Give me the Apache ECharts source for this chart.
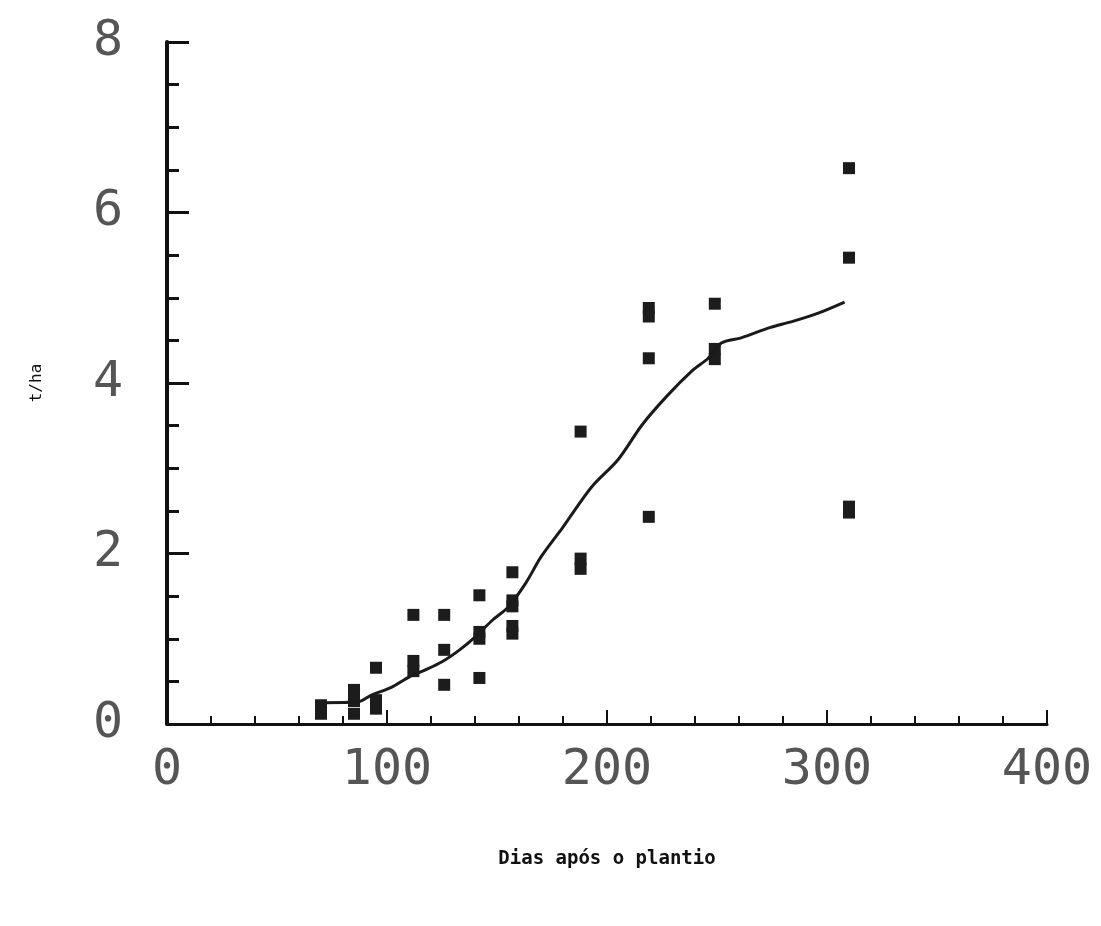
<!DOCTYPE html>
<html>
<head>
<meta charset="utf-8">
<script src="https://cdn.jsdelivr.net/npm/echarts@6/dist/echarts.min.js"></script>
<style>
  html, body { margin: 0; padding: 0; background: #fff; }
  #main { width: 1101px; height: 926px; }
</style>
</head>
<body>
<div id="main"></div>
<script>
// dias após o plantio (coletas) e produção observada, t/ha
var dias = [70, 70, 85, 85, 85, 95, 95, 95, 112, 112, 112, 126, 126, 126,
            142, 142, 142, 142, 157, 157, 157, 157, 157, 188, 188, 188,
            219, 219, 219, 219, 249, 249, 249, 310, 310, 310, 310];
var producao = [0.12, 0.22, 0.12, 0.27, 0.40, 0.18, 0.28, 0.66, 0.62, 0.74, 1.28, 0.46, 0.87, 1.28,
                0.54, 1.00, 1.08, 1.51, 1.06, 1.15, 1.38, 1.45, 1.78, 1.82, 1.94, 3.43,
                2.43, 4.29, 4.78, 4.88, 4.28, 4.40, 4.93, 2.48, 2.55, 5.47, 6.52];

// curva ajustada
var curvaX = [71, 87, 93, 102, 110, 117, 125, 133, 140, 148, 155, 163, 170,
              180, 193, 205, 216, 227, 239, 246, 252, 261, 274, 284, 296, 308];
var curvaY = [0.25, 0.26, 0.34, 0.43, 0.55, 0.63, 0.73, 0.87, 1.02, 1.22, 1.37, 1.65, 1.96,
              2.31, 2.78, 3.10, 3.51, 3.84, 4.15, 4.29, 4.47, 4.53, 4.65, 4.72, 4.82, 4.95];

var xTicks = [0, 100, 200, 300, 400];
var yTicks = [0, 2, 4, 6, 8];

var pontos = dias.map(function (d, i) { return [d, producao[i]]; });
var curva = curvaX.map(function (d, i) { return [d, curvaY[i]]; });

var tickFont = {
  color: '#555',
  fontFamily: 'DejaVu Sans Mono',
  fontWeight: 'lighter',
  fontSize: 50
};

var myChart = echarts.init(document.getElementById('main'));
var option = {
  backgroundColor: '#fff',
  animation: false,
  grid: { left: 167, right: 54, top: 42, bottom: 202 },
  xAxis: {
    type: 'value',
    min: xTicks[0],
    max: xTicks[xTicks.length - 1],
    interval: 100,
    name: 'Dias após o plantio',
    nameLocation: 'middle',
    nameGap: 126,
    nameTextStyle: { color: '#111', fontFamily: 'DejaVu Sans Mono', fontSize: 19, fontWeight: 'bold' },
    axisLine: { lineStyle: { color: '#111', width: 3 } },
    axisTick: { show: true, inside: true, length: 14, lineStyle: { color: '#111', width: 2 } },
    minorTick: { show: true, splitNumber: 5, length: 8, lineStyle: { color: '#111', width: 2 } },
    splitLine: { show: false },
    axisLabel: Object.assign({ margin: 22 }, tickFont)
  },
  yAxis: {
    type: 'value',
    min: yTicks[0],
    max: yTicks[yTicks.length - 1],
    interval: 2,
    name: 't/ha',
    nameLocation: 'middle',
    nameGap: 122,
    nameTextStyle: { color: '#111', fontFamily: 'DejaVu Sans Mono', fontSize: 16 },
    axisLine: { lineStyle: { color: '#111', width: 4 } },
    axisTick: { show: true, inside: true, length: 22, lineStyle: { color: '#111', width: 3 } },
    minorTick: { show: true, splitNumber: 4, length: 12, lineStyle: { color: '#111', width: 3 } },
    splitLine: { show: false },
    axisLabel: Object.assign({ margin: 44 }, tickFont)
  },
  series: [
    {
      name: 'observado',
      type: 'scatter',
      data: pontos,
      symbol: 'rect',
      symbolSize: [12, 12],
      itemStyle: { color: '#1c1c1c', opacity: 1 }
    },
    {
      name: 'ajustado',
      type: 'line',
      data: curva,
      smooth: 0.3,
      showSymbol: false,
      lineStyle: { color: '#1a1a1a', width: 3 }
    }
  ]
};
myChart.setOption(option);
</script>
</body>
</html>
